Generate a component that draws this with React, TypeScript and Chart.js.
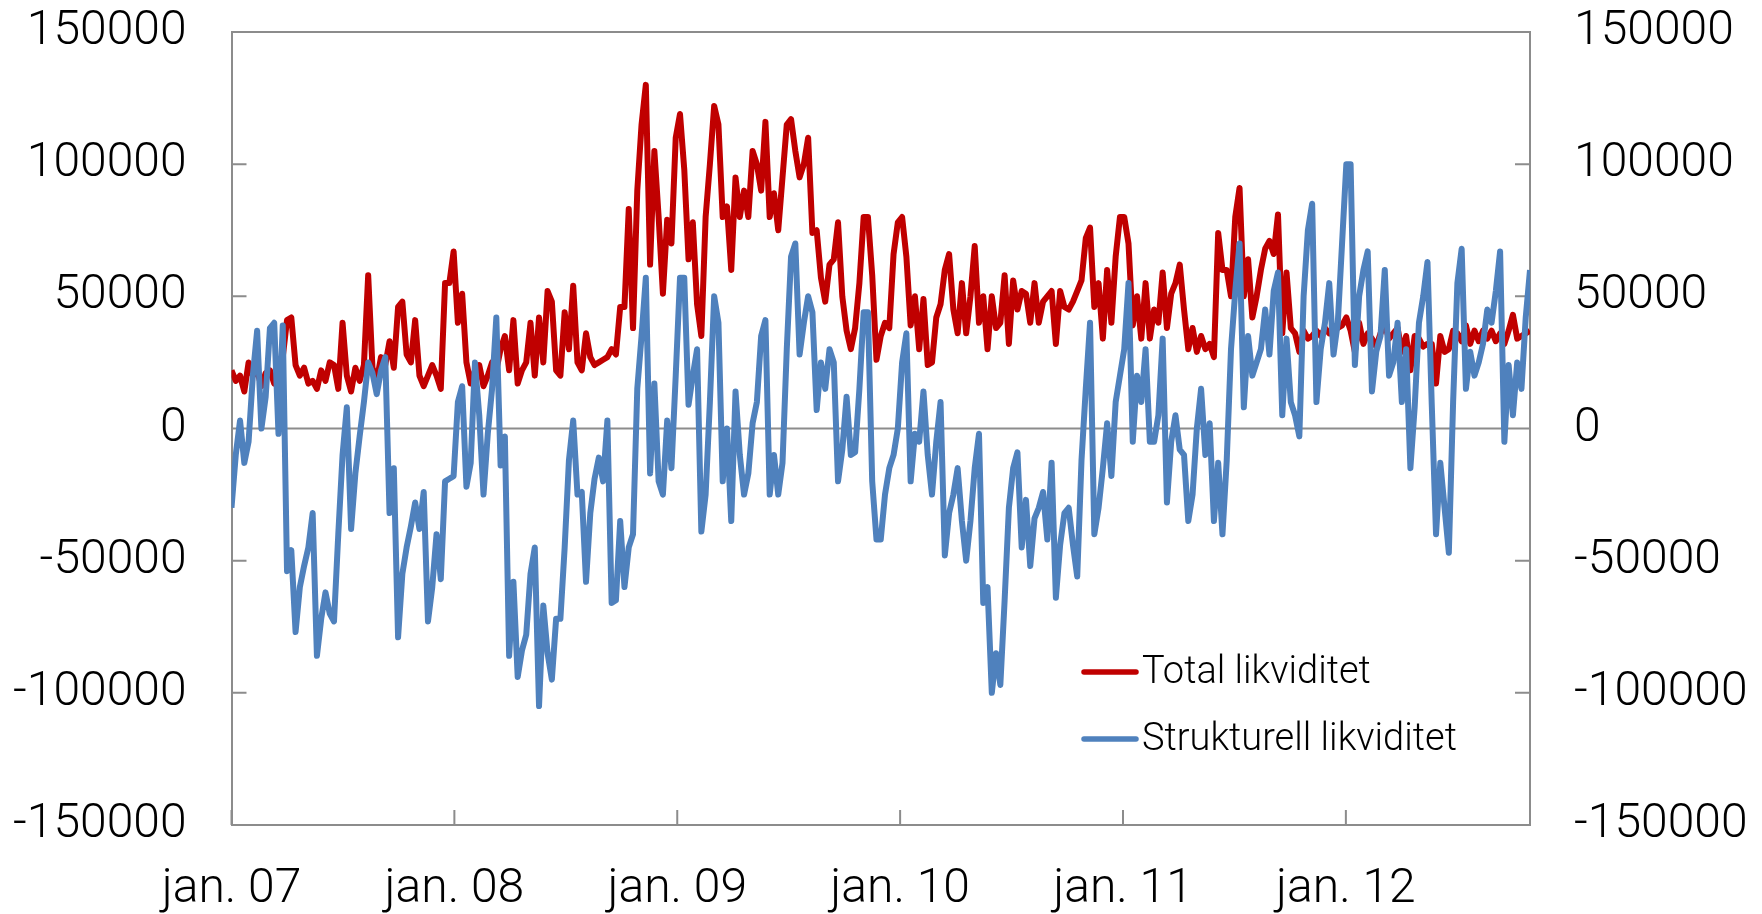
import React, { useEffect, useRef } from "react";
import { Chart, registerables } from "chart.js";

Chart.register(...registerables);

// Weekly observations from the first week of January 2007, in thousands (value x 1000 = NOK million)
const totalA = [22,18,20,14,25,20,22,16,21,22,17,23,27,41,42,24,20,23,17,18,15,22,18,25,24,15,40,20,14,23,18,24,58,23,18,27,24,33,23,46,48,28,25,41,20,16,20,24,20,15,55,55,67];
const totalB = [40,51,25,17,22,24,16,20,25,22,30,35,22,41,17,22,25,40,20,42,25,52,48,22,20,44,30,54,25,22,36,27,24,25,26,27,30,28,46,46,83,38,90,115,130,62,105,80,51,79,70];
const totalC = [110,119,98,64,78,47,35,80,100,122,115,80,84,60,95,80,90,80,105,100,90,116,80,89,75,95,115,117,105,95,100,110,74,75,57,48,62,64,78,50,37,30,38,55,80,80,58,26,35,40,38,66,78,80];
const totalD = [65,39,50,30,49,24,25,42,47,60,66,45,36,55,36,50,69,40,50,30,50,38,40,58,32,56,45,52,51,40,55,40,48,50,52,32,52,46,45,48,52,56,72,76,46,55,34,60,40,65,80,80];
const totalE = [70,39,50,34,55,34,45,40,59,38,51,55,62,45,30,38,29,35,30,32,27,74,60,60,50,80,91,50,64,42,50,60,68,71,66,81,36,59,38,36,29,37,34,35,37,35,38,36,37,38,39,42];
const totalF = [37,29,40,32,36,34,31,36,39,34,36,38,29,35,22,35,34,31,32,32,17,35,29,30,37,36,33,39,32,37,33,37,34,37,33,36,32,37,43,34,35,36,37];

const strukA = [-30,-10,3,-13,-5,20,37,0,12,38,40,-2,39,-54,-46,-77,-60,-52,-45,-32,-86,-72,-62,-70,-73,-40,-10,8,-38,-17,-3,10,25,21,13,22,27,-32,-15,-79,-55,-45,-37,-28,-38,-24,-73,-60,-40,-57,-20,-19,-18];
const strukB = [10,16,-22,-13,25,5,-25,-2,15,42,-14,-3,-86,-58,-94,-84,-78,-55,-45,-105,-67,-85,-95,-72,-72,-45,-12,3,-25,-24,-58,-32,-19,-11,-20,3,-66,-65,-35,-60,-45,-40,15,35,57,-17,17,-20,-25,3,-15];
const strukC = [20,57,57,9,20,30,-39,-25,10,50,40,-20,0,-35,14,-10,-25,-17,2,10,35,41,-25,-10,-25,-13,30,65,70,28,40,50,44,7,25,15,30,25,-20,-8,12,-10,-9,15,44,44,-20,-42,-42,-25,-15,-10,0,25];
const strukD = [36,-20,-2,-5,14,-10,-25,-5,10,-48,-32,-25,-15,-35,-50,-35,-15,-2,-66,-60,-100,-85,-97,-65,-30,-15,-9,-45,-27,-52,-34,-30,-24,-42,-13,-64,-44,-32,-30,-44,-56,-12,15,40,-40,-30,-15,2,-18,10,20,30];
const strukE = [55,-5,20,10,30,-5,-5,5,34,-28,-5,5,-8,-10,-35,-25,0,15,-10,2,-35,-13,-40,-12,30,52,70,8,35,20,25,30,45,28,52,59,5,34,10,5,-3,50,75,85,10,30,40,55,28,40,70,100];
const strukF = [100,24,50,60,67,14,29,35,60,20,25,40,10,30,-15,8,40,50,63,9,-40,-13,-30,-47,10,55,68,15,29,20,25,32,45,40,52,67,-5,24,5,25,15,42,60];

const X_TICK_VALUES = [0, 1, 2, 3, 4, 5];
const X_TICK_LABELS = ["jan. 07", "jan. 08", "jan. 09", "jan. 10", "jan. 11", "jan. 12"];
const Y_MIN = -150000;
const Y_MAX = 150000;
const Y_STEP = 50000;
const SERIES_LABELS = ["Total likviditet", "Strukturell likviditet"];

const RED = "#C00000";
const BLUE = "#4F81BD";
const AXIS_COLOR = "#8C8C8C";
const FONT_FAMILY = 'Roboto, "Liberation Sans", Arial, sans-serif';
const FONT_WEIGHT = 300;
const TICK_LEN = 15;

export default function App() {
  const ref = useRef<HTMLCanvasElement>(null);

  useEffect(() => {
    const canvas = ref.current;
    if (!canvas) return;
    const total = [...totalA, ...totalB, ...totalC, ...totalD, ...totalE, ...totalF];
    const struk = [...strukA, ...strukB, ...strukC, ...strukD, ...strukE, ...strukF];
    const weekInYears = 7 / 365.25;
    const toPoints = (arr: number[]) => arr.map((v, i) => ({ x: i * weekInYears, y: v * 1000 }));
    const xMax = (total.length - 1) * weekInYears;

    const decor = {
      id: "decor",
      beforeDatasetsDraw(chart: any) {
        const { ctx, chartArea: a, scales } = chart;
        ctx.save();
        ctx.strokeStyle = AXIS_COLOR;
        ctx.lineWidth = 2;
        ctx.beginPath();
        ctx.moveTo(a.left, a.top);
        ctx.lineTo(a.right, a.top);
        const y0 = scales.y.getPixelForValue(0);
        ctx.moveTo(a.left, y0);
        ctx.lineTo(a.right, y0);
        for (const t of scales.y.ticks) {
          const y = scales.y.getPixelForValue(t.value);
          ctx.moveTo(a.left, y);
          ctx.lineTo(a.left + TICK_LEN, y);
          ctx.moveTo(a.right - TICK_LEN, y);
          ctx.lineTo(a.right, y);
        }
        for (const t of scales.x.ticks) {
          const x = scales.x.getPixelForValue(t.value);
          ctx.moveTo(x, a.bottom);
          ctx.lineTo(x, a.bottom - TICK_LEN);
        }
        ctx.stroke();
        ctx.restore();
      },
      afterDatasetsDraw(chart: any) {
        const { ctx } = chart;
        ctx.save();
        ctx.font = `${FONT_WEIGHT} 38px ${FONT_FAMILY}`;
        ctx.textBaseline = "middle";
        ctx.textAlign = "left";
        chart.data.datasets.forEach((ds: any, i: number) => {
          const y = 672 + i * 67;
          ctx.strokeStyle = ds.borderColor;
          ctx.lineWidth = 5.5;
          ctx.lineCap = "round";
          ctx.beginPath();
          ctx.moveTo(1084, y);
          ctx.lineTo(1136, y);
          ctx.stroke();
          ctx.fillStyle = "#000";
          ctx.fillText(ds.label, 1142, y + 1);
        });
        ctx.restore();
      },
    };

    const tickFont = { family: FONT_FAMILY, size: 48, weight: FONT_WEIGHT };
    const fitY = (width: number) => (s: any) => {
      s.width = width;
      s.paddingTop = 26;
      s.paddingBottom = 26;
    };
    const chart = new Chart(canvas, {
      type: "line",
      data: {
        datasets: [
          {
            label: SERIES_LABELS[0],
            data: toPoints(total),
            borderColor: RED,
            backgroundColor: RED,
            borderWidth: 6,
            pointRadius: 0,
            tension: 0,
            borderJoinStyle: "round",
            order: 2,
          },
          {
            label: SERIES_LABELS[1],
            data: toPoints(struk),
            borderColor: BLUE,
            backgroundColor: BLUE,
            borderWidth: 6,
            pointRadius: 0,
            tension: 0,
            borderJoinStyle: "round",
            order: 1,
          },
        ],
      },
      options: {
        responsive: false,
        animation: false,
        devicePixelRatio: 1,
        layout: { padding: { top: 32, left: 0, right: 0, bottom: 0 } },
        plugins: { legend: { display: false }, tooltip: { enabled: false } },
        scales: {
          x: {
            type: "linear",
            position: "bottom",
            min: 0,
            max: xMax,
            afterBuildTicks: (s: any) => {
              s.ticks = X_TICK_VALUES.map((v) => ({ value: v }));
            },
            afterFit: (s: any) => {
              s.height = 89;
              s.paddingLeft = 0;
              s.paddingRight = 0;
            },
            ticks: {
              font: tickFont,
              color: "#000",
              padding: 36,
              maxRotation: 0,
              autoSkip: false,
              callback: (_v: any, i: number) => X_TICK_LABELS[i],
            },
            grid: { display: false, drawTicks: false },
            border: { display: true, color: AXIS_COLOR, width: 2 },
          },
          y: {
            type: "linear",
            position: "left",
            min: Y_MIN,
            max: Y_MAX,
            afterFit: fitY(231.5),
            ticks: { stepSize: Y_STEP, font: tickFont, color: "#000", padding: 45, callback: (v: any) => String(v) },
            grid: { display: false, drawTicks: false },
            border: { display: true, color: AXIS_COLOR, width: 2 },
          },
          y2: {
            type: "linear",
            position: "right",
            min: Y_MIN,
            max: Y_MAX,
            afterFit: fitY(232),
            ticks: { stepSize: Y_STEP, font: tickFont, color: "#000", padding: 44, callback: (v: any) => String(v) },
            grid: { display: false, drawTicks: false },
            border: { display: true, color: AXIS_COLOR, width: 2 },
          },
        },
      },
      plugins: [decor],
    } as any);
    return () => chart.destroy();
  }, []);

  return (
    <div style={{ position: "fixed", left: 0, top: 0, width: 1762, height: 914, background: "#fff" }}>
      <canvas ref={ref} width={1762} height={914} style={{ display: "block", width: 1762, height: 914 }} />
    </div>
  );
}
